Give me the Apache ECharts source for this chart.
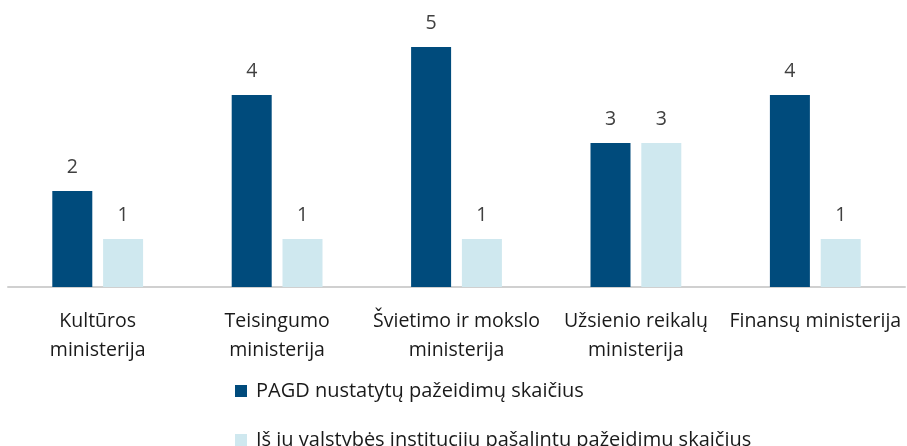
<!DOCTYPE html>
<html>
<head>
<meta charset="utf-8">
<script src="https://cdn.jsdelivr.net/npm/echarts@6/dist/echarts.min.js"></script>
<style>
  html, body { margin: 0; padding: 0; background: #fff; }
  #chart { width: 907px; height: 446px; }
</style>
</head>
<body>
<div id="chart"></div>
<script>
var categories = ['Kultūros\nministerija', 'Teisingumo\nministerija', 'Švietimo ir mokslo\nministerija', 'Užsienio reikalų\nministerija', 'Finansų ministerija'];
var seriesNames = ['PAGD nustatytų pažeidimų skaičius', 'Iš jų valstybės institucijų pašalintų pažeidimų skaičius'];
var detected = [2, 4, 5, 3, 4];
var removed = [1, 1, 1, 3, 1];

var font = '"Open Sans", "Noto Sans", sans-serif';
var legendText = { fontSize: 20, color: '#1a1a1a', fontFamily: font, padding: [0, 0, 0, 4] };
var myChart = echarts.init(document.getElementById('chart'));
myChart.setOption({
  animation: false,
  textStyle: { fontFamily: font },
  grid: { left: 8, right: 2, top: 47, bottom: 159 },
  legend: [
    {
      left: 230, top: 376,
      itemWidth: 12, itemHeight: 12, itemGap: 8,
      icon: 'rect',
      textStyle: legendText,
      data: [seriesNames[0]]
    },
    {
      left: 230, top: 425,
      itemWidth: 12, itemHeight: 12, itemGap: 8,
      icon: 'rect',
      textStyle: legendText,
      data: [seriesNames[1]]
    }
  ],
  xAxis: {
    type: 'category',
    data: categories,
    axisLine: { lineStyle: { color: '#d0d0d0', width: 2 } },
    axisTick: { show: false },
    axisLabel: { fontSize: 19.5, color: '#1a1a1a', lineHeight: 29, margin: 20, interval: 0, fontFamily: font }
  },
  yAxis: {
    type: 'value',
    min: 0,
    max: 5,
    show: false,
    splitLine: { show: false }
  },
  series: [
    {
      name: seriesNames[0],
      type: 'bar',
      data: detected,
      barWidth: 40,
      barGap: '27%',
      itemStyle: { color: '#004b7c' },
      label: { show: true, position: 'top', distance: 14, fontSize: 19.5, color: '#404040', fontFamily: font }
    },
    {
      name: seriesNames[1],
      type: 'bar',
      data: removed,
      barWidth: 40,
      itemStyle: { color: '#cfe8ef' },
      label: { show: true, position: 'top', distance: 14, fontSize: 19.5, color: '#404040', fontFamily: font }
    }
  ]
});
</script>
</body>
</html>
